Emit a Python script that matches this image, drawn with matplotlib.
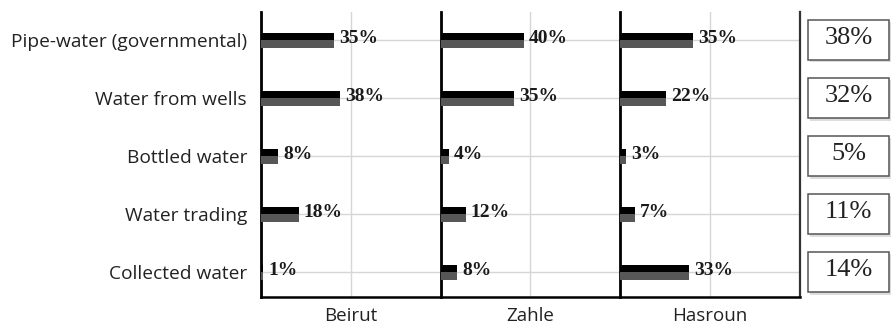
import matplotlib.pyplot as plt
from matplotlib.patches import Rectangle
from matplotlib.transforms import blended_transform_factory

# Datos del gráfico
sources = ["Pipe-water (governmental)", "Water from wells", "Bottled water",
           "Water trading", "Collected water"]
regions = ["Beirut", "Zahle", "Hasroun"]
beirut = [35, 38, 8, 18, 1]
zahle = [40, 35, 4, 12, 8]
hasroun = [35, 22, 3, 7, 33]
overall = [38, 32, 5, 11, 14]
series = [beirut, zahle, hasroun]

W, H = 891, 327
fig = plt.figure(figsize=(W / 100, H / 100), dpi=100)

x0, pw = 261 / W, 179.5 / W
bot, top = 1 - 297 / H, 1 - 12 / H
xmax = 86
rows = list(range(len(sources)))

axes = []
for i, (name, vals) in enumerate(zip(regions, series)):
    ax = fig.add_axes([x0 + i * pw, bot, pw, top - bot])
    axes.append(ax)
    # barra en dos tonos: negro arriba, gris abajo
    ax.barh([r - 0.06 for r in rows], vals, height=0.125, color="black", zorder=3)
    ax.barh([r + 0.065 for r in rows], vals, height=0.135, color="#575757", zorder=3)
    for r, v in zip(rows, vals):
        ax.text(v + 2.5, r - 0.03, f"{v}%", va="center", ha="left",
                fontsize=14, fontweight="bold", family="Liberation Serif",
                color="#1a1a1a", zorder=4)
    ax.set_xlim(0, xmax)
    ax.set_ylim(4.43, -0.48)
    ax.set_xticks([xmax / 2], [name])
    ax.set_yticks(rows)
    ax.grid(True, color="#d6d6d6", lw=1, zorder=0)
    ax.tick_params(length=0, pad=7)
    for lab in ax.get_xticklabels():
        lab.set_fontsize(13.5)
        lab.set_family("Open Sans")
        lab.set_color("#222222")
    if i == 0:
        ax.set_yticklabels(sources, fontsize=13.8, family="Open Sans", color="#222222")
        ax.tick_params(axis="y", pad=10)
    else:
        ax.set_yticklabels([])
    ax.spines["top"].set_visible(False)
    ax.spines["right"].set_visible(i == 2)
    ax.spines["right"].set_color("#333333")
    ax.spines["right"].set_linewidth(1.6)
    ax.spines["left"].set_linewidth(2.0)
    ax.spines["bottom"].set_linewidth(1.8)

# Cajas con el promedio a la derecha
tr = blended_transform_factory(fig.transFigure, axes[2].transData)
bx, bw, bh = 808 / W, 81 / W, 0.7
for r, v in zip(rows, overall):
    fig.patches.append(Rectangle((bx + 0.002, r - bh / 2 + 0.04), bw, bh, transform=tr,
                                 facecolor="#dddddd", edgecolor="none", zorder=1))
    fig.patches.append(Rectangle((bx, r - bh / 2), bw, bh, transform=tr,
                                 facecolor="white", edgecolor="#555555", lw=1.1, zorder=2))
    fig.text(bx + bw / 2, r - 0.03, f"{v}%", transform=tr, ha="center", va="center",
             fontsize=19, family="Liberation Serif", color="#222222", zorder=3)

fig.savefig("out.png", dpi=100)
